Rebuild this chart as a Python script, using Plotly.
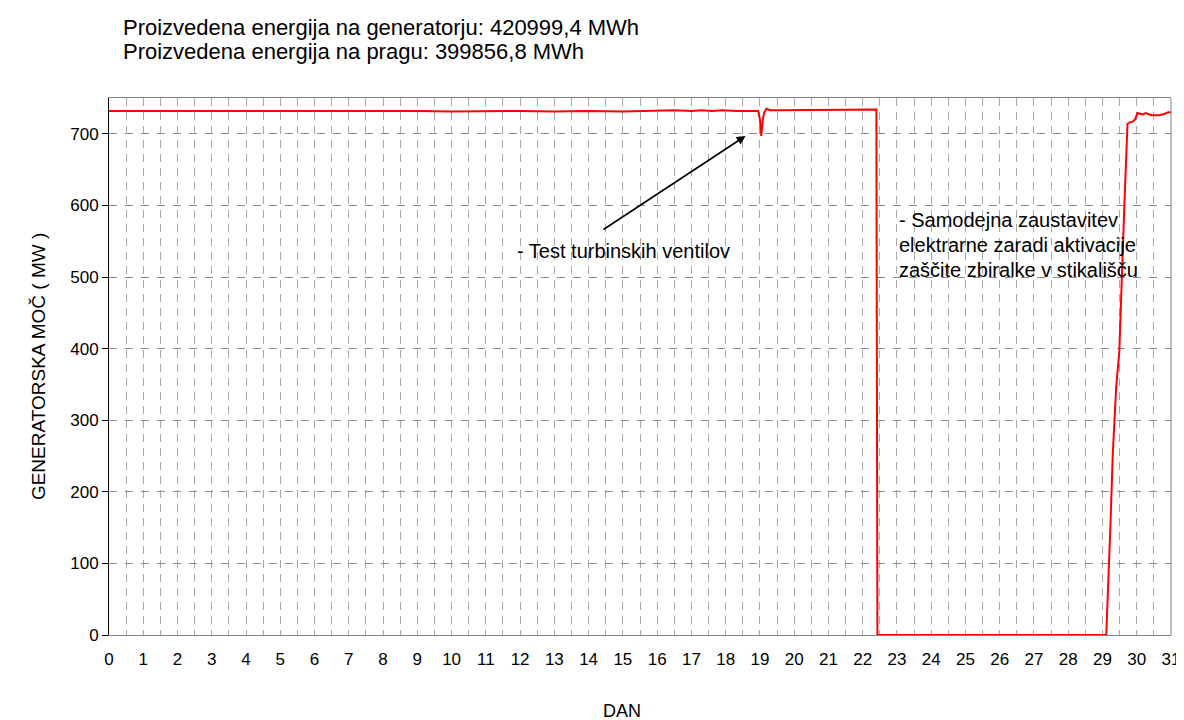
import plotly.graph_objects as go

# ---- data ----
days = [0.0, 0.5, 1.0, 1.5, 2.0, 2.5, 3.0, 4.0, 5.0, 6.0, 7.0, 8.0, 9.0, 10.0,
        11.0, 12.0, 13.0, 14.0, 15.0, 16.0, 16.5, 17.0, 17.3, 17.6, 17.9, 18.3,
        18.7, 18.95, 19.0, 19.04, 19.09, 19.13, 19.19, 19.3, 19.6, 20.0, 20.5,
        21.0, 21.5, 22.0, 22.35, 22.4, 22.43, 23.0, 24.0, 25.0, 26.0, 27.0,
        28.0, 29.11, 29.23, 29.30, 29.40, 29.47, 29.49, 29.64, 29.73, 29.8,
        29.88, 29.95, 30.02, 30.17, 30.27, 30.42, 30.67, 30.82, 30.92, 31.0]
mw = [732, 732, 732, 732, 732, 733, 732, 732, 732, 732, 732, 732, 732, 731,
      732, 732, 731, 732, 731, 732, 733, 732, 733, 732, 733, 732,
      732, 732, 720, 697, 722, 730, 735, 733, 733, 733, 733,
      733, 733, 733, 733, 734, 0, 0, 0, 0, 0, 0,
      0, 0, 150, 252, 346, 388, 395, 602, 714, 716,
      717, 720, 729, 727, 729, 726, 726, 728, 730, 730]

x_ticks = list(range(0, 32))
y_ticks = [0, 100, 200, 300, 400, 500, 600, 700]

title_lines = ["Proizvedena energija na generatorju: 420999,4 MWh",
               "Proizvedena energija na pragu: 399856,8 MWh"]
note_test = "- Test turbinskih ventilov"
note_stop = ["- Samodejna zaustavitev",
             "elektrarne zaradi aktivacije",
             "zaščite zbiralke v stikališču"]
x_title = "DAN"
y_title = "GENERATORSKA MOČ ( MW )"

FONT = "Liberation Sans, Arial, sans-serif"

fig = go.Figure()
fig.add_trace(go.Scatter(x=days, y=mw, mode="lines",
                         line=dict(color="#ff0000", width=2),
                         showlegend=False, hoverinfo="skip"))

fig.update_layout(
    width=1184, height=720, autosize=False,
    margin=dict(l=101, r=12, t=90, b=93, pad=0),
    paper_bgcolor="white", plot_bgcolor="white",
    font=dict(family=FONT, size=17, color="black"),
    showlegend=False,
)

fig.update_xaxes(
    range=[0, 31], tickmode="array", tickvals=x_ticks,
    ticktext=[str(v) for v in x_ticks],
    showgrid=True, gridcolor="#a8a8a8", gridwidth=1, griddash="8px,6px",
    minor=dict(tickmode="linear", tick0=0, dtick=0.5, showgrid=True,
               gridcolor="#a8a8a8", gridwidth=1, griddash="8px,6px"),
    showline=True, linecolor="#808080", linewidth=1, mirror=True,
    zeroline=False, ticks="outside", ticklen=9, tickcolor="rgba(0,0,0,0)",
    tickfont=dict(size=17, family=FONT, color="black"),
)
fig.update_yaxes(
    range=[0, 750], tickmode="array", tickvals=y_ticks,
    showgrid=True, gridcolor="#8c8c8c", gridwidth=1, griddash="8px,8px",
    showline=True, linecolor="black", linewidth=1,
    zeroline=False, ticks="outside", ticklen=6, tickcolor="black",
    tickfont=dict(size=17, family=FONT, color="black"),
)

# right border of the plot box
fig.add_shape(type="line", xref="paper", yref="paper", x0=1, x1=1, y0=0, y1=1,
              line=dict(color="#808080", width=1))

# title lines
for txt, yp in zip(title_lines, [1.1313, 1.0869]):
    fig.add_annotation(text=txt, xref="paper", yref="paper", x=0.0112, y=yp,
                       xanchor="left", yanchor="middle", showarrow=False,
                       font=dict(size=22, family=FONT, color="black"))

# axis titles
fig.add_annotation(text=x_title, xref="paper", yref="paper", x=0.4827, y=-0.1415,
                   xanchor="center", yanchor="middle", showarrow=False,
                   font=dict(size=18, family=FONT, color="black"))
fig.add_annotation(text=y_title, xref="paper", yref="paper", x=-0.0663, y=0.5,
                   xanchor="center", yanchor="middle", showarrow=False,
                   textangle=-90,
                   font=dict(size=19, family=FONT, color="black"))

# arrow for the turbine valve test
fig.add_annotation(text="", x=18.58, y=697, xref="x", yref="y",
                   ax=14.39, ay=565, axref="x", ayref="y",
                   showarrow=True, arrowhead=2, arrowsize=1.1, arrowwidth=1.6,
                   arrowcolor="black")
fig.add_annotation(text=note_test, x=11.84, y=537, xref="x", yref="y",
                   xanchor="left", yanchor="middle", showarrow=False,
                   font=dict(size=20, family=FONT, color="black"))

for txt, yv in zip(note_stop, [580, 545, 510]):
    fig.add_annotation(text=txt, x=23.01, y=yv, xref="x", yref="y",
                       xanchor="left", yanchor="middle", showarrow=False,
                       font=dict(size=20, family=FONT, color="black"))

fig.write_html("out.html")
